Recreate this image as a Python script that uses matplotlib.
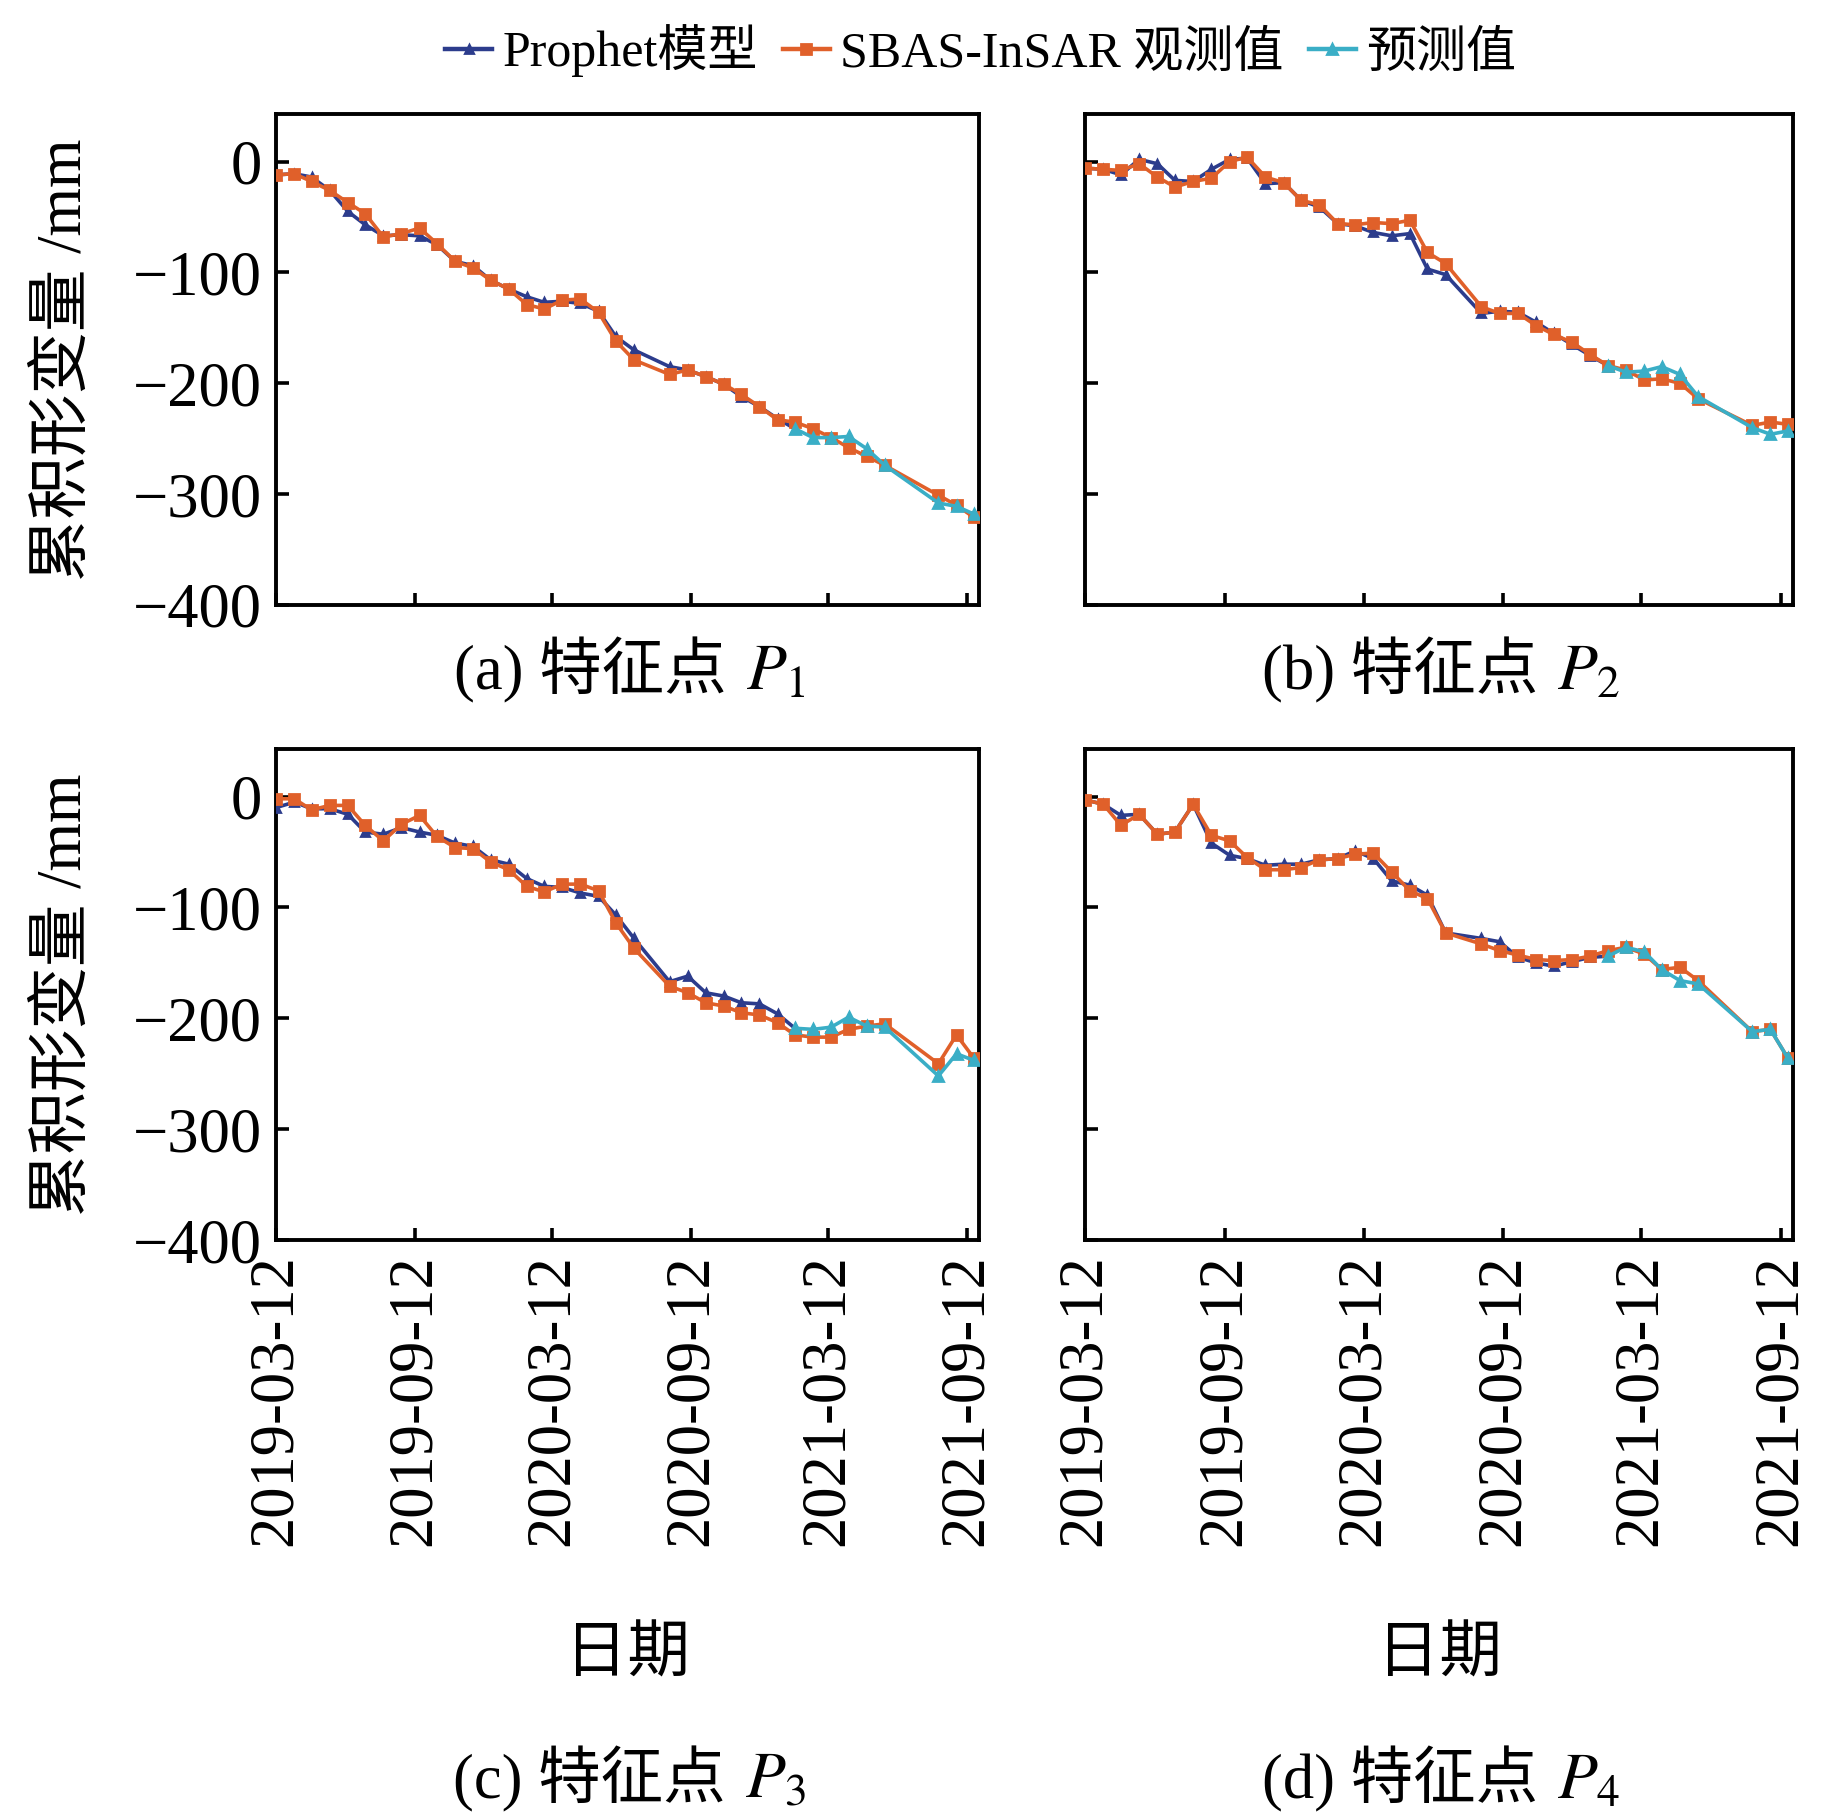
import matplotlib
matplotlib.use('Agg')
import matplotlib.pyplot as plt
import matplotlib.dates as mdates
from matplotlib.lines import Line2D
import pandas as pd

plt.rcParams['font.family'] = ['Liberation Serif', 'Noto Sans CJK SC']
plt.rcParams['mathtext.fontset'] = 'stix'
plt.rcParams['axes.unicode_minus'] = True

# ---------------- data ----------------
dates = ['2019-03-12', '2019-04-05', '2019-04-28', '2019-05-22', '2019-06-15',
         '2019-07-08', '2019-08-01', '2019-08-25', '2019-09-18', '2019-10-11',
         '2019-11-04', '2019-11-28', '2019-12-21', '2020-01-14', '2020-02-07',
         '2020-03-01', '2020-03-25', '2020-04-18', '2020-05-12', '2020-06-04',
         '2020-06-28', '2020-08-14', '2020-09-07', '2020-10-01', '2020-10-25',
         '2020-11-17', '2020-12-11', '2021-01-04', '2021-01-27', '2021-02-20',
         '2021-03-16', '2021-04-08', '2021-05-02', '2021-05-26', '2021-08-05',
         '2021-08-29', '2021-09-21']
fit_dates = dates[:29]
pred_dates = dates[28:]

obs_a = [-12, -11, -18, -26, -37, -47, -68, -65, -60, -74, -90, -96, -107, -115, -129,
         -133, -125, -124, -136, -162, -179, -192, -188, -194, -201, -210, -221, -233,
         -235, -241, -249, -258, -266, -274, -301, -310, -321]
fit_a = [-12, -11, -14, -26, -45, -57, -67, -66, -67, -75, -90, -94, -107, -115, -122,
         -127, -126, -128, -135, -158, -170, -185, -188, -194, -201, -212, -221, -232, -241]
pred_a = [-241, -249, -249, -248, -259, -274, -308, -311, -318]

obs_b = [-6, -7, -8, -2, -14, -23, -18, -15, 0, 4, -14, -19, -35, -39, -56, -57, -55,
         -56, -53, -82, -92, -131, -137, -137, -148, -156, -163, -174, -184, -188, -197,
         -196, -200, -214, -238, -235, -237]
fit_b = [-6, -7, -12, 2, -2, -17, -18, -7, 2, 3, -20, -19, -35, -41, -56, -58, -64,
         -67, -65, -97, -102, -137, -135, -136, -145, -155, -165, -175, -184]
pred_b = [-184, -190, -189, -185, -192, -212, -240, -246, -243]

obs_c = [-2, -2, -12, -8, -8, -26, -40, -25, -17, -36, -46, -47, -59, -66, -81, -86,
         -79, -79, -85, -114, -137, -171, -177, -186, -189, -195, -197, -204, -215, -217,
         -217, -210, -207, -205, -241, -215, -236]
fit_c = [-10, -5, -11, -11, -16, -32, -34, -28, -32, -35, -42, -45, -57, -61, -74, -81,
         -82, -87, -90, -107, -128, -167, -162, -177, -180, -186, -187, -196, -209]
pred_c = [-209, -210, -208, -199, -207, -208, -252, -232, -238]

obs_d = [-3, -7, -26, -16, -34, -32, -7, -35, -40, -55, -66, -66, -64, -57, -56, -52,
         -51, -68, -85, -92, -123, -133, -139, -143, -147, -148, -147, -144, -139, -136,
         -142, -156, -154, -166, -212, -210, -236]
fit_d = [-3, -7, -17, -16, -34, -32, -7, -42, -53, -56, -62, -61, -61, -57, -56, -49,
         -56, -76, -80, -89, -123, -128, -131, -145, -150, -153, -149, -145, -144]
pred_d = [-144, -136, -140, -156, -166, -169, -212, -210, -236]

panel_tags = ['(a)', '(b)', '(c)', '(d)']
panel_points = ['1', '2', '3', '4']
x_ticks = ['2019-03-12', '2019-09-12', '2020-03-12', '2020-09-12', '2021-03-12', '2021-09-12']
y_ticks = [0, -100, -200, -300, -400]
y_ticklabels = ['0', '\u2212100', '\u2212200', '\u2212300', '\u2212400']
legend_labels = ['Prophet模型', 'SBAS-InSAR 观测值', '预测值']
ylabel = '累积形变量 /mm'
xlabel = '日期'

# ---------------- style ----------------
C_FIT = '#2c3c8c'
C_OBS = '#e0602a'
C_PRED = '#3aaec6'
FS = 22.5

fig = plt.figure(figsize=(9.215, 9.095), dpi=200)

widths = [0.3815, 0.3842]
H = 0.2700
lefts = [0.1498, 0.5888]
bottoms = [0.6674, 0.3183]

series = [(obs_a, fit_a, pred_a), (obs_b, fit_b, pred_b),
          (obs_c, fit_c, pred_c), (obs_d, fit_d, pred_d)]

d_all = pd.to_datetime(dates)
d_fit = pd.to_datetime(fit_dates)
d_pred = pd.to_datetime(pred_dates)
tick_pos = mdates.date2num(pd.to_datetime(x_ticks))

axes = []
for i, (obs, fit, pred) in enumerate(series):
    r, c = divmod(i, 2)
    ax = fig.add_axes([lefts[c], bottoms[r], widths[c], H])
    axes.append(ax)
    ax.plot(d_fit, fit, color=C_FIT, lw=1.3, marker='^', ms=3.2, zorder=3)
    ax.plot(d_all, obs, color=C_OBS, lw=1.3, marker='s', ms=3.8, zorder=4)
    ax.plot(d_pred, pred, color=C_PRED, lw=1.3, marker='^', ms=3.6, zorder=5)
    ax.set_xlim(pd.Timestamp('2019-03-12'), pd.Timestamp('2021-09-28'))
    ax.set_ylim(-400, 43)
    ax.set_yticks(y_ticks)
    ax.set_xticks(tick_pos)
    ax.set_yticklabels(y_ticklabels)
    ax.set_xticklabels(x_ticks, rotation=90)
    for s in ax.spines.values():
        s.set_linewidth(1.4)
    ax.tick_params(direction='in', length=4.5, width=1.3, labelsize=FS, pad=5)
    if c == 1:
        ax.tick_params(labelleft=False)
    if r == 0:
        ax.tick_params(labelbottom=False)

# y labels
for r in range(2):
    yc = bottoms[r] + H / 2
    fig.text(0.0353, yc, ylabel, rotation=90, ha='center', va='center', fontsize=FS)

# x labels
for c in range(2):
    fig.text(lefts[c] + widths[c] / 2, 0.0896, xlabel, ha='center', va='center', fontsize=FS)

# panel titles
fig.canvas.draw()
renderer = fig.canvas.get_renderer()
title_y = [0.621, 0.0115]
for i in range(4):
    r, c = divmod(i, 2)
    cx = lefts[c] + widths[c] / 2
    t1 = fig.text(0, title_y[r], panel_tags[i] + ' 特征点 ', ha='left', va='baseline', fontsize=FS)
    t2 = fig.text(0, title_y[r], '$P_{' + panel_points[i] + '}$', ha='left', va='baseline', fontsize=FS + 1)
    w1 = t1.get_window_extent(renderer).width / fig.bbox.width
    w2 = t2.get_window_extent(renderer).width / fig.bbox.width
    x0 = cx - (w1 + w2) / 2
    t1.set_x(x0)
    t2.set_x(x0 + w1 + 0.002)

# legend
handles = [Line2D([], [], color=C_FIT, lw=1.6, marker='^', ms=3.2),
           Line2D([], [], color=C_OBS, lw=1.6, marker='s', ms=3.6),
           Line2D([], [], color=C_PRED, lw=1.6, marker='^', ms=3.6)]
fig.legend(handles, legend_labels, loc='center', bbox_to_anchor=(0.532, 0.972), ncol=3,
           frameon=False, fontsize=18, handlelength=0.95, handletextpad=0.2,
           columnspacing=0.5)

fig.savefig('out.png', dpi=200)
